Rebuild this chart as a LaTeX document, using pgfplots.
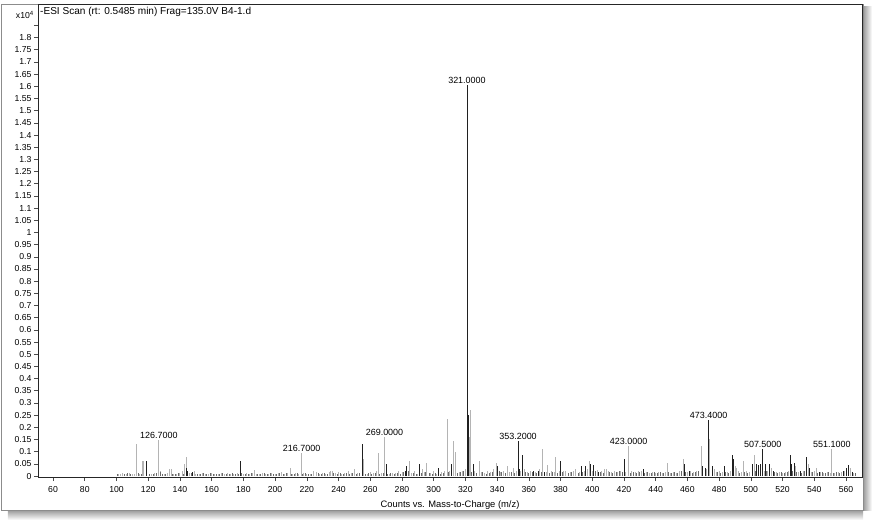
\documentclass[border=0pt]{standalone}
\usepackage{pgfplots}
\pgfplotsset{compat=1.18}
\usepackage{fontspec}
\setmainfont{Liberation Sans}
\definecolor{stickgray}{HTML}{B4B4B4}
\definecolor{stickdark}{HTML}{202020}
\definecolor{grassdark}{HTML}{6A6A6A}
\definecolor{framegray}{HTML}{8C8C8C}
\newcommand{\tickfont}{\fontsize{8.7}{9}\selectfont}
\newcommand{\peakfont}{\fontsize{9}{10}\selectfont}

\begin{document}
\begin{tikzpicture}
\useasboundingbox (-38bp,-47bp) rectangle (840bp,477bp);
% page frame with soft shadow
\shade[left color=black!40,right color=white] (825bp,-33bp) rectangle (834bp,470bp);
\shade[top color=black!40,bottom color=white] (-30bp,-43bp) rectangle (825bp,-33bp);
\draw[framegray,line width=0.8bp] (-37bp,-33bp) rectangle (825bp,473bp);
\begin{axis}[
  at={(0,0)}, anchor=south west,
  scale only axis, width=824bp, height=473bp,
  xmin=50.5, xmax=570.1, ymin=-0.004, ymax=1.938,
  axis line style={line width=0.8bp, black!85},
  xtick={60,80,...,560},
  ytick={0,0.05,0.1,0.15,0.2,0.25,0.3,0.35,0.4,0.45,0.5,0.55,0.6,0.65,0.7,0.75,0.8,0.85,0.9,0.95,1,1.05,1.1,1.15,1.2,1.25,1.3,1.35,1.4,1.45,1.5,1.55,1.6,1.65,1.7,1.75,1.8},
  extra y ticks={1.85}, extra y tick labels={},
  xtick pos=lower, ytick pos=left,
  tick align=outside, major tick length=4bp,
  tick style={black!70, line width=0.6bp},
  ticklabel style={font=\tickfont},
  /pgf/number format/assume math mode=true,
  yticklabel style={/pgf/number format/fixed, /pgf/number format/precision=2, xshift=1bp},
  xticklabel style={yshift=-2bp},
  xlabel={Counts vs. Mass-to-Charge (m/z)},
  xlabel style={font=\fontsize{9.4}{10}\selectfont, yshift=-1bp},
  clip=true,
]
% small gray sticks
\addplot[ycomb, stickgray, line width=0.9bp, mark=none] coordinates {
(101,0.010) (102.5,0.008) (104,0.011) (106,0.009) (108,0.012) (110,0.008) (111.5,0.010) (114.5,0.009)
(120.5,0.010) (122,0.008) (124,0.012) (128,0.020) (130,0.010) (132,0.012) (136,0.010) (138,0.008)
(140,0.011) (141.5,0.020) (146,0.012) (150,0.010) (152,0.008) (154,0.012) (156,0.010) (158,0.009)
(160,0.011) (162,0.008) (164,0.010) (166,0.012) (168,0.009) (170,0.011) (172,0.008) (174,0.010)
(176,0.012) (180,0.009) (182,0.011) (184,0.008) (186,0.012) (188,0.010) (190,0.009) (192,0.011)
(194,0.008) (196,0.010) (198,0.012) (200,0.009) (202,0.011) (204,0.015) (206,0.010) (208,0.012)
(211,0.009) (213,0.011) (215,0.008) (218,0.012) (220,0.010) (222,0.009) (226,0.015) (228,0.010)
(230,0.012) (232,0.009) (235,0.020) (238,0.011) (240,0.015) (242,0.010) (244,0.012) (246,0.020)
(248,0.011) (252,0.012) (258,0.010) (260,0.015) (262,0.011) (264,0.020) (267,0.012) (272,0.010)
(274,0.013) (276,0.011) (278,0.020) (280,0.015) (286,0.012) (288,0.020) (290,0.010) (293,0.030)
(294,0.015) (298,0.012) (300,0.020) (302,0.010) (305,0.015) (307,0.020) (310,0.020) (316,0.015)
(318,0.020) (320,0.030) (326,0.020) (330,0.015) (332,0.012) (334,0.020) (336,0.015) (338,0.030)
(342,0.015) (344,0.020) (348,0.015) (352,0.020) (355,0.020) (359,0.015) (361,0.020) (364,0.015)
(367,0.030) (371,0.015) (374,0.020) (376,0.015) (379,0.020) (382,0.020) (386,0.015) (388,0.020)
(392,0.015) (395,0.020) (397,0.030) (400,0.020) (403,0.025) (406,0.020) (409,0.030) (412,0.015)
(414,0.020) (416,0.015) (418,0.020) (421,0.015) (425,0.020) (427,0.015) (431,0.020) (434,0.015)
(436,0.012) (438,0.015) (440,0.012) (442,0.015) (444,0.012) (446,0.015) (449,0.012) (451,0.015)
(453,0.012) (455,0.020) (460,0.015) (462,0.020) (464,0.015) (466,0.020) (472,0.030) (478,0.015)
(480,0.020) (482,0.015) (485,0.015) (487,0.020) (492,0.020) (494,0.015) (497,0.020) (499,0.015)
(504.5,0.020) (508.5,0.020) (510.5,0.020) (512,0.020) (516,0.015) (520,0.012) (522,0.015) (524,0.020)
(530,0.015) (533,0.020) (538,0.015) (540,0.020) (544,0.015) (546,0.012) (548,0.015) (550,0.012)
(553,0.012) (557,0.015) (559,0.020) (565,0.012)
};
% small dark sticks
\addplot[ycomb, grassdark, line width=0.8bp, mark=none] coordinates {
(100.5,0.008) (105,0.010) (107,0.012) (109,0.009) (113.5,0.011) (115.5,0.010) (121,0.010) (123,0.009)
(125,0.011) (127.5,0.015) (129,0.010) (131,0.008) (135,0.010) (137,0.009) (139,0.012) (142,0.009)
(147,0.011) (151,0.008) (153,0.010) (155,0.012) (157,0.009) (159,0.011) (161,0.008) (163,0.010)
(165,0.009) (167,0.012) (169,0.010) (171,0.008) (173,0.011) (175,0.009) (177,0.010) (179,0.012)
(181,0.010) (183,0.008) (185,0.011) (189,0.009) (191,0.010) (193,0.012) (195,0.009) (197,0.011)
(199,0.008) (201,0.010) (203,0.012) (205,0.009) (207,0.011) (210,0.008) (212,0.010) (214,0.012)
(217,0.009) (219,0.011) (221,0.008) (223,0.010) (227,0.012) (229,0.009) (231,0.011) (233,0.010)
(237,0.012) (239,0.010) (241,0.011) (243,0.009) (245,0.012) (247,0.010) (249,0.011) (251,0.010)
(253,0.012) (257,0.010) (259,0.011) (261,0.009) (263,0.012) (266,0.010) (268,0.012) (271,0.010)
(273,0.012) (275,0.010) (277,0.011) (279,0.010) (281,0.015) (284,0.020) (287,0.012) (289,0.010)
(292,0.012) (294.5,0.015) (297,0.012) (299,0.010) (301,0.012) (304,0.010) (306,0.012) (309.5,0.015)
(315,0.012) (317,0.015) (319,0.020) (324,0.015) (327,0.012) (331,0.015) (333,0.010) (335,0.012)
(337,0.015) (341.5,0.020) (343,0.015) (345,0.012) (349,0.015) (351,0.012) (358,0.015) (360,0.012)
(362,0.015) (365,0.012) (368,0.015) (373,0.012) (375,0.015) (378,0.012) (381,0.015) (385,0.012)
(387,0.015) (391,0.012) (394,0.015) (402,0.020) (405,0.015) (407,0.012) (411,0.015) (413,0.012)
(415,0.015) (417,0.020) (419,0.015) (424,0.012) (426,0.015) (428,0.012) (430,0.015) (433,0.012)
(435,0.015) (437,0.012) (439,0.015) (441,0.012) (443,0.015) (445,0.012) (448,0.015) (450,0.012)
(452,0.015) (454,0.012) (456,0.020) (459,0.015) (463,0.012) (465,0.015) (467,0.020) (479,0.015)
(481,0.012) (484,0.015) (486,0.012) (491,0.015) (493,0.012) (496,0.015) (498,0.012) (503,0.020)
(510,0.020) (515,0.015) (517,0.012) (519,0.015) (521,0.012) (523,0.015) (526.5,0.020) (529,0.015)
(532,0.012) (534,0.020) (539,0.015) (542,0.012) (545,0.015) (547,0.012) (549,0.015) (552,0.012)
(554,0.015) (556,0.012) (563,0.020) (566,0.012)
};
% main gray peaks
\addplot[ycomb, stickgray, line width=0.9bp, mark=none] coordinates {
(112.8,0.130) (116.5,0.063) (117.3,0.060) (126.7,0.148) (133.5,0.030) (134.5,0.030) (143,0.050)
(144.2,0.080) (149,0.020) (187,0.025) (209.5,0.035) (216.7,0.095) (224.5,0.020) (234,0.015)
(236,0.020) (250,0.030) (255.8,0.070) (265.2,0.095) (269,0.160) (284.5,0.060) (295.5,0.055)
(308.6,0.235) (312.4,0.145) (313.6,0.100) (322.6,0.160) (323.2,0.270) (328.8,0.060) (339.5,0.055)
(346.5,0.040) (350,0.035) (357,0.030) (368.8,0.110) (372,0.045) (377,0.080) (383,0.020)
(389.5,0.030) (398,0.060) (408,0.030) (410,0.020) (422.9,0.125) (429,0.020) (447.5,0.055)
(457.2,0.070) (468.7,0.125) (474.1,0.150) (477,0.030) (490,0.040) (490.8,0.035) (495.3,0.060)
(502.2,0.085) (513,0.035) (518,0.015) (528,0.040) (536.2,0.050) (541.5,0.035) (551.1,0.110)
(555,0.015) (563,0.035)
};
% main dark peaks
\addplot[ycomb, stickdark, line width=0.9bp, mark=none] coordinates {
(118.8,0.060) (143.8,0.035) (145,0.020) (148,0.015) (178,0.060) (255,0.130) (270,0.050)
(282,0.020) (283,0.040) (291,0.050) (303,0.035) (311,0.050) (321,1.606) (322,0.250)
(325.2,0.050) (340.5,0.040) (353.2,0.145) (354,0.030) (356,0.086) (363,0.020) (366,0.020)
(370,0.015) (380,0.060) (393,0.040) (396,0.040) (399,0.050) (401,0.045) (404,0.015)
(420.6,0.070) (432,0.030) (458.2,0.050) (461,0.020) (469.8,0.040) (471.2,0.035) (473.4,0.230)
(475.8,0.040) (483.5,0.040) (488.5,0.087) (489.2,0.070) (500.8,0.050) (503.8,0.050) (505,0.045)
(506,0.050) (507.5,0.110) (509,0.050) (511.5,0.050) (514,0.020) (525,0.086) (525.8,0.050)
(527.5,0.055) (531,0.020) (535.2,0.080) (537,0.035) (543,0.015) (558.5,0.020) (560.5,0.035)
(561.8,0.045) (564,0.015)
};
% peak annotations
\begin{scope}[every node/.style={font=\peakfont, anchor=south, inner sep=1bp}]
\node at (axis cs:126.7,0.148) {126.7000};
\node at (axis cs:216.7,0.095) {216.7000};
\node at (axis cs:269,0.160) {269.0000};
\node at (axis cs:321,1.606) {321.0000};
\node at (axis cs:353.2,0.145) {353.2000};
\node at (axis cs:422.9,0.125) {423.0000};
\node at (axis cs:473.4,0.230) {473.4000};
\node at (axis cs:507.5,0.110) {507.5000};
\node at (axis cs:551.1,0.110) {551.1000};
\end{scope}
\node[anchor=north west, font=\fontsize{10.1}{11}\selectfont, inner sep=0pt]
  at ([xshift=2bp,yshift=-3.5bp]rel axis cs:0,1) {-ESI Scan (rt: 0.5485 min) Frag=135.0V B4-1.d};
\draw[black!60, line width=0.6bp] ([yshift=-1.6bp]rel axis cs:0,0) -- ([yshift=-1.6bp]rel axis cs:1,0);
\end{axis}
\node[anchor=east, font=\tickfont, inner sep=0pt] at (-4bp,462bp) {x10\textsuperscript{4}};
\end{tikzpicture}
\end{document}
